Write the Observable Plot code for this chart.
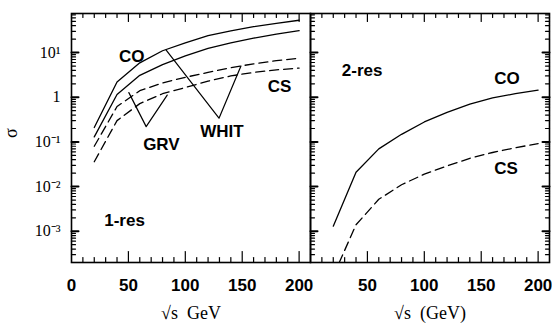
<!DOCTYPE html>
<html><head><meta charset="utf-8">
<script src="https://cdn.jsdelivr.net/npm/d3@7"></script>
<script src="https://cdn.jsdelivr.net/npm/@observablehq/plot@0.6"></script>
<style>html,body{margin:0;padding:0;background:#fff}</style>
</head><body><div id="chart"></div>
<script>
// ---- data ----
const panels = ["1-res", "2-res"];
const sqrtS = [20, 40, 60, 80, 100, 120, 140, 160, 180, 200];
// 1-res panel
const coWHIT1 = [0.21, 2.2, 5.9, 11.0, 16.5, 24, 30.5, 38, 45, 53];
const coGRV1  = [0.13, 1.15, 3.1, 5.4, 8.4, 12.5, 16.5, 21, 26, 31];
const csWHIT1 = [0.08, 0.62, 1.4, 2.1, 2.8, 3.6, 4.6, 5.6, 6.6, 7.5];
const csGRV1  = [0.036, 0.3, 0.72, 1.2, 1.65, 2.3, 3.0, 3.6, 4.1, 4.5];
// 2-res panel
const co2 = [0.0013, 0.021, 0.07, 0.148, 0.28, 0.46, 0.7, 0.97, 1.2, 1.45];
const cs2 = [0.0001, 0.0014, 0.0052, 0.011, 0.019, 0.029, 0.043, 0.058, 0.074, 0.092];

const xTickLabels1 = [0, 50, 100, 150, 200];
const xTickLabels2 = [50, 100, 150, 200];
const yTickValues = [10, 1, 0.1, 0.01, 0.001];
const yTickLabels = ["10\u00B9", "1", "10\u207B\u00B9", "10\u207B\u00B2", "10\u207B\u00B3"];
const xTitles = ["\u221As\u2002GeV", "\u221As\u2002(GeV)"];
const yTitle = "\u03C3";

const labelText  = ["CO", "CS", "GRV", "WHIT", "1-res", "2-res", "CO", "CS"];
const labelPanel = ["1-res", "1-res", "1-res", "1-res", "1-res", "2-res", "2-res", "2-res"];
const labelX     = [53, 182.8, 79, 132.2, 46.6, 45.4, 172.7, 171.8];
const labelY     = [8.15, 1.73, 0.086, 0.173, 0.00178, 4.06, 2.56, 0.026];

const grvPointerX  = [50.4, 65.6, 84.1];
const grvPointerY  = [1.27, 0.22, 1.12];
const whitPointerX = [83.2, 129.6, 148.9];
const whitPointerY = [11.4, 0.34, 5.0];

// ---- layout ----
const W = 552, H = 323, mL = 71, mR = 3, mT = 13, mB = 61;
const innerH = H - mT - mB;
const innerW = (W - mL - mR) / 2;
const xDom = [0, 210];
const yDom = [2e-4, 75];
const pxPerDecade = innerH / (Math.log10(yDom[1]) - Math.log10(yDom[0]));
const yUp = px => yDom[0] * Math.pow(10, px / pxPerDecade);
const yDown = px => yDom[1] / Math.pow(10, px / pxPerDecade);
const xLen = px => px * (xDom[1] - xDom[0]) / innerW;

// ---- build tables ----
const series = [
  {panel: "1-res", name: "CO WHIT", dashed: false, v: coWHIT1},
  {panel: "1-res", name: "CO GRV", dashed: false, v: coGRV1},
  {panel: "1-res", name: "CS WHIT", dashed: true, v: csWHIT1},
  {panel: "1-res", name: "CS GRV", dashed: true, v: csGRV1},
  {panel: "2-res", name: "CO", dashed: false, v: co2},
  {panel: "2-res", name: "CS", dashed: true, v: cs2}
];
const rows = series.flatMap(s => sqrtS.map((x, i) => ({panel: s.panel, name: s.name, dashed: s.dashed, x, y: s.v[i]})));
const solidRows = rows.filter(d => !d.dashed);
const dashedRows = rows.filter(d => d.dashed);
const labels = labelText.map((t, i) => ({text: t, panel: labelPanel[i], x: labelX[i], y: labelY[i]}));
const pointers = [
  ...grvPointerX.map((x, i) => ({panel: "1-res", name: "GRV", x, y: grvPointerY[i]})),
  ...whitPointerX.map((x, i) => ({panel: "1-res", name: "WHIT", x, y: whitPointerY[i]}))
];
const xTickText = [
  ...xTickLabels1.map(v => ({panel: "1-res", v})),
  ...xTickLabels2.map(v => ({panel: "2-res", v}))
];
const yTickText = yTickValues.map((v, i) => ({panel: "1-res", v, text: yTickLabels[i]}));
const xTitleRows = panels.map((p, i) => ({panel: p, text: xTitles[i]}));
const yTitleRows = [{panel: "1-res", text: yTitle}];

// inward ticks on the frame sides, as two-point line segments
const minorXv = d3.range(10, 210, 10).filter(v => v % 50 !== 0);
const majorXv = [50, 100, 150, 200];
const minorYv = [];
for (let e = -4; e <= 1; e++) for (let k = 2; k <= 9; k++) {
  const v = k * Math.pow(10, e);
  if (v >= yDom[0] && v <= yDom[1]) minorYv.push(v);
}
let tickId = 0;
const xTickPts = (vals, ps, side, len) => ps.flatMap(p => vals.flatMap(v => {
  const id = "t" + (tickId++);
  return [
    {panel: p, id, x: v, y: side === "bottom" ? yDom[0] : yDom[1]},
    {panel: p, id, x: v, y: side === "bottom" ? yUp(len) : yDown(len)}
  ];
}));
const yTickPts = (vals, ps, side, len) => ps.flatMap(p => vals.flatMap(v => {
  const id = "t" + (tickId++);
  return [
    {panel: p, id, y: v, x: side === "left" ? xDom[0] : xDom[1]},
    {panel: p, id, y: v, x: side === "left" ? xDom[0] + xLen(len) : xDom[1] - xLen(len)}
  ];
}));
const thinTicks = [
  ...xTickPts(minorXv, panels, "bottom", 5),
  ...xTickPts(majorXv, panels, "bottom", 11),
  ...xTickPts(minorXv, panels, "top", 4),
  ...xTickPts(majorXv, panels, "top", 8),
  ...yTickPts(minorYv, panels, "left", 4),
  ...yTickPts(minorYv, ["2-res"], "right", 4)
];
const boldTicks = [
  ...yTickPts(yTickValues, panels, "left", 7),
  ...yTickPts(yTickValues, ["2-res"], "right", 7)
];

const serif = "Liberation Serif, Times New Roman, serif";
const sans = "Liberation Sans, Arial, Helvetica, sans-serif";

const chart = Plot.plot({
  width: W, height: H,
  marginLeft: mL, marginRight: mR, marginTop: mT, marginBottom: mB,
  x: {domain: xDom, axis: null},
  y: {type: "log", domain: yDom, axis: null},
  fx: {domain: panels, axis: null, padding: 0},
  style: {fontFamily: "sans-serif", background: "white", color: "black", overflow: "visible"},
  marks: [
    Plot.frame({stroke: "black", strokeWidth: 1.6}),
    // curves
    Plot.line(solidRows, {x: "x", y: "y", z: "name", fx: "panel", stroke: "black", strokeWidth: 1.3, clip: true}),
    Plot.line(dashedRows, {x: "x", y: "y", z: "name", fx: "panel", stroke: "black", strokeWidth: 1.3, strokeDasharray: "9,5", clip: true}),
    // pointers
    Plot.line(pointers, {x: "x", y: "y", z: "name", fx: "panel", stroke: "black", strokeWidth: 1.2}),
    // ticks
    Plot.line(thinTicks, {x: "x", y: "y", z: "id", fx: "panel", stroke: "black", strokeWidth: 1.2}),
    Plot.line(boldTicks, {x: "x", y: "y", z: "id", fx: "panel", stroke: "black", strokeWidth: 2}),
    // labels
    Plot.text(labels, {x: "x", y: "y", text: "text", fx: "panel", fontFamily: sans, fontSize: 17, fontWeight: "bold", lineAnchor: "middle", fill: "black"}),
    // x tick labels
    Plot.text(xTickText, {x: "v", fx: "panel", text: d => String(d.v), frameAnchor: "bottom", dy: 23, lineAnchor: "middle", fontFamily: sans, fontSize: 17, fontWeight: "bold", fill: "black"}),
    // y tick labels
    Plot.text(yTickText, {x: () => 0, y: "v", text: "text", fx: "panel", dx: -11, textAnchor: "end", lineAnchor: "middle", fontFamily: serif, fontSize: 16, fill: "black"}),
    // axis titles
    Plot.text(xTitleRows, {fx: "panel", text: "text", frameAnchor: "bottom", dy: 51, lineAnchor: "middle", fontFamily: serif, fontSize: 18, fill: "black"}),
    Plot.text(yTitleRows, {fx: "panel", text: "text", frameAnchor: "left", dx: -60, rotate: -90, fontFamily: serif, fontSize: 18, fill: "black"})
  ]
});
document.getElementById("chart").appendChild(chart);
</script>
</body></html>
